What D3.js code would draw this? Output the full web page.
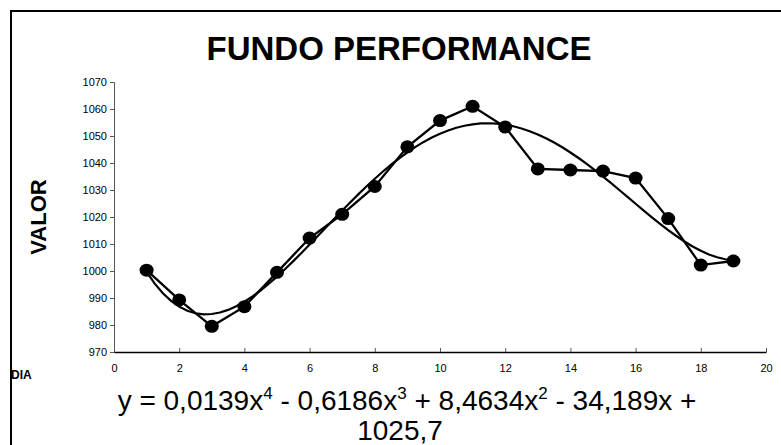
<!DOCTYPE html>
<html><head><meta charset="utf-8">
<script src="https://cdn.jsdelivr.net/npm/d3@7"></script>
<style>body{margin:0;background:#fff}svg{display:block}</style>
</head><body>
<svg id="c" width="781" height="445"></svg>
<script>
const days = [1,2,3,4,5,6,7,8,9,10,11,12,13,14,15,16,17,18,19];
const values = [1000.3,989.3,979.5,986.8,999.5,1012.2,1021.0,1031.3,1046.0,1055.7,1061.0,1053.3,1037.8,1037.4,1037.0,1034.4,1019.4,1002.2,1003.7];
const xTicks = [0,2,4,6,8,10,12,14,16,18,20];
const yTicks = [970,980,990,1000,1010,1020,1030,1040,1050,1060,1070];
const title = "FUNDO PERFORMANCE";
const yLabel = "VALOR";
const xLabel = "DIA";
const eqParts = [["y = 0,0139x","4"],[" - 0,6186x","3"],[" + 8,4634x","2"],[" - 34,189x +",null]];
const eqLine2 = "1025,7";

const svg = d3.select("#c");
const font = "'Liberation Sans', Arial, sans-serif";

// frame
svg.append("path").attr("d","M11,445 L11,11 L781,11").attr("fill","none").attr("stroke","#000").attr("stroke-width",2);

const x = d3.scaleLinear().domain([0,20]).range([114,766]);
const y = d3.scaleLinear().domain([970,1070]).range([352,82]);

svg.append("text").attr("x",399).attr("y",60).attr("text-anchor","middle")
  .attr("font-family",font).attr("font-weight","bold").attr("font-size",33).text(title);

const yAxis = svg.append("g").attr("transform",`translate(${x(0)},0)`)
  .call(d3.axisLeft(y).tickValues(yTicks).tickFormat(d3.format("d")).tickSize(4).tickPadding(3));
yAxis.selectAll("text").attr("font-family",font).attr("font-size",11).attr("fill","#000");
yAxis.selectAll("line,path").attr("stroke","#555");

const xAxis = svg.append("g").attr("transform",`translate(0,${y(970)})`)
  .call(d3.axisBottom(x).tickValues(xTicks).tickFormat(d3.format("d")).tickSizeInner(-4).tickSizeOuter(0).tickPadding(12));
xAxis.select(".domain").attr("stroke","#000").attr("stroke-width",1.5);
xAxis.selectAll(".tick line").attr("stroke","#555");
xAxis.selectAll("text").attr("font-family",font).attr("font-size",11).attr("fill","#000");

svg.append("text").attr("transform","translate(46,217) rotate(-90)").attr("text-anchor","middle")
  .attr("font-family",font).attr("font-weight","bold").attr("font-size",22).text(yLabel);
svg.append("text").attr("x",11).attr("y",379)
  .attr("font-family",font).attr("font-weight","bold").attr("font-size",12).text(xLabel);

// 4th-order polynomial least-squares trendline of the data (as the chart's trendline)
function polyfit(xs, ys, deg){
  const n = deg+1;
  const A = Array.from({length:n},()=>new Array(n+1).fill(0));
  for (let k=0;k<xs.length;k++){
    for (let i=0;i<n;i++){
      for (let j=0;j<n;j++) A[i][j]+=Math.pow(xs[k],i+j);
      A[i][n]+=ys[k]*Math.pow(xs[k],i);
    }
  }
  for (let i=0;i<n;i++){
    let p=i; for(let r=i+1;r<n;r++) if(Math.abs(A[r][i])>Math.abs(A[p][i])) p=r;
    [A[i],A[p]]=[A[p],A[i]];
    for(let r=0;r<n;r++){ if(r===i) continue; const f=A[r][i]/A[i][i]; for(let c=i;c<=n;c++) A[r][c]-=f*A[i][c]; }
  }
  return A.map((row,i)=>row[n]/row[i]);
}
const coefs = polyfit(days, values, 4);
const poly = t => coefs.reduce((s,c,i)=>s+c*Math.pow(t,i),0);
const tx = d3.range(days[0], days[days.length-1]+0.001, 0.25);
svg.append("path").datum(tx).attr("fill","none").attr("stroke","#000").attr("stroke-width",2.2)
  .attr("d", d3.line().x(d=>x(d)).y(d=>y(poly(d))));

// data line
const pts = days.map((d,i)=>[d,values[i]]);
svg.append("path").datum(pts).attr("fill","none").attr("stroke","#000").attr("stroke-width",2.3)
  .attr("d", d3.line().x(d=>x(d[0])).y(d=>y(d[1])));
svg.selectAll("ellipse.pt").data(pts).enter().append("ellipse").attr("class","pt")
  .attr("cx",d=>x(d[0])).attr("cy",d=>y(d[1])).attr("rx",7).attr("ry",6.5).attr("fill","#000");

// equation
const eq = svg.append("text").attr("x",407).attr("y",410).attr("text-anchor","middle")
  .attr("font-family",font).attr("font-size",28);
let pendingDy = 0;
eqParts.forEach(([t,s])=>{
  eq.append("tspan").attr("dy",pendingDy).text(t);
  pendingDy = 0;
  if (s){
    eq.append("tspan").attr("dy",-11).attr("font-size",17).text(s);
    pendingDy = 11;
  }
});
svg.append("text").attr("x",400).attr("y",440).attr("text-anchor","middle")
  .attr("font-family",font).attr("font-size",28).text(eqLine2);
</script>
</body></html>
